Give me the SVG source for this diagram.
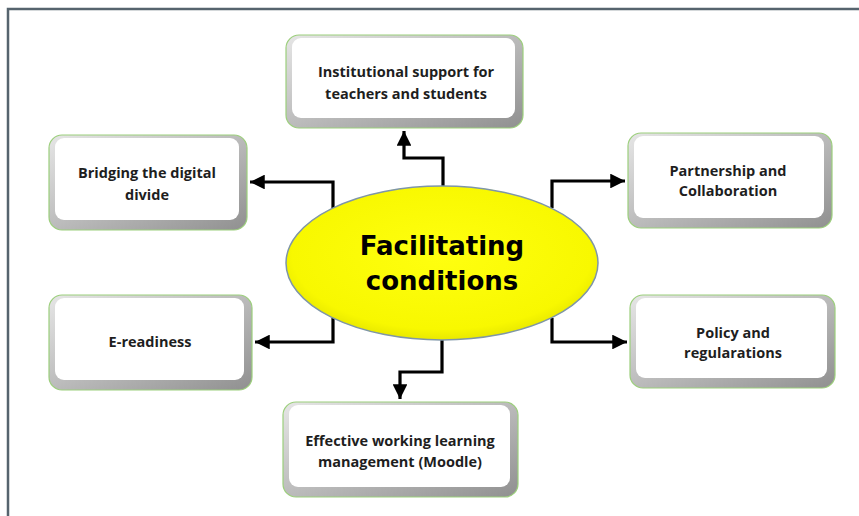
<svg xmlns="http://www.w3.org/2000/svg" width="859" height="516" viewBox="0 0 859 516">
<style>
.box{fill:url(#bev);stroke:#9ccf7c;stroke-width:1.2}
.face{fill:#ffffff}
.t{font-family:"Open Sans",Lato,"Liberation Sans",sans-serif;font-weight:bold;font-size:14.5px;fill:#1e1e1e;text-anchor:middle}
.c{fill:none;stroke:#000;stroke-width:3.2;stroke-linejoin:miter}
.main{font-family:"DejaVu Sans","Liberation Sans",Arial,sans-serif;font-weight:bold;font-size:26px;fill:#000;text-anchor:middle}
</style>
<defs>
<linearGradient id="bev" x1="0" y1="0" x2="1" y2="1">
<stop offset="0" stop-color="#e6e6e6"/>
<stop offset="1" stop-color="#909090"/>
</linearGradient>
<radialGradient id="yel" cx="0.5" cy="0.45" r="0.6">
<stop offset="0" stop-color="#ffff10"/>
<stop offset="0.8" stop-color="#f8f800"/>
<stop offset="1" stop-color="#dede00"/>
</radialGradient>
<marker id="arr" viewBox="0 0 10 10" refX="10" refY="5" markerWidth="4.6" markerHeight="4.6" orient="auto" markerUnits="strokeWidth">
<path d="M0,0 L10,5 L0,10 z" fill="#000"/>
</marker>
</defs>
<rect width="859" height="516" fill="#fff"/>
<path d="M8,516 L8,9 L859,9" fill="none" stroke="#56646e" stroke-width="2.5"/>

<g id="connectors">
<path class="c" d="M443,186 L443,158 L404,158 L404,131" marker-end="url(#arr)"/>
<path class="c" d="M333,208 L333,182 L250,182" marker-end="url(#arr)"/>
<path class="c" d="M552,208 L552,181 L625,181" marker-end="url(#arr)"/>
<path class="c" d="M333,318 L333,342 L255,342" marker-end="url(#arr)"/>
<path class="c" d="M552,318 L552,342 L627,342" marker-end="url(#arr)"/>
<path class="c" d="M442,340 L442,372 L400,372 L400,399" marker-end="url(#arr)"/>
</g>

<g id="center">
<ellipse cx="442" cy="263" rx="156" ry="77" fill="url(#yel)" stroke="#7f96a8" stroke-width="1.5"/>
<text class="main" x="442" y="255">Facilitating</text>
<text class="main" x="442" y="290">conditions</text>
</g>

<g id="n-institutional">
<rect class="box" x="286" y="35" width="237" height="93" rx="13"/>
<rect class="face" x="292" y="38" width="223" height="80" rx="9"/>
<text class="t" x="406" y="77">Institutional support for</text>
<text class="t" x="406" y="99">teachers and students</text>
</g>

<g id="n-bridging">
<rect class="box" x="49" y="135" width="198" height="95" rx="13"/>
<rect class="face" x="55" y="138" width="184" height="82" rx="9"/>
<text class="t" x="147" y="178">Bridging the digital</text>
<text class="t" x="147" y="200">divide</text>
</g>

<g id="n-partnership">
<rect class="box" x="628" y="133" width="204" height="95" rx="13"/>
<rect class="face" x="634" y="136" width="190" height="82" rx="9"/>
<text class="t" x="728" y="176">Partnership and</text>
<text class="t" x="728" y="196">Collaboration</text>
</g>

<g id="n-ereadiness">
<rect class="box" x="49" y="295" width="203" height="95" rx="13"/>
<rect class="face" x="55" y="298" width="189" height="82" rx="9"/>
<text class="t" x="150" y="347">E-readiness</text>
</g>

<g id="n-policy">
<rect class="box" x="630" y="295" width="205" height="93" rx="13"/>
<rect class="face" x="636" y="298" width="191" height="80" rx="9"/>
<text class="t" x="733" y="338">Policy and</text>
<text class="t" x="733" y="358">regularations</text>
</g>

<g id="n-moodle">
<rect class="box" x="283" y="402" width="235" height="95" rx="13"/>
<rect class="face" x="289" y="405" width="221" height="82" rx="9"/>
<text class="t" x="400" y="446">Effective working learning</text>
<text class="t" x="400" y="467">management (Moodle)</text>
</g>
</svg>
